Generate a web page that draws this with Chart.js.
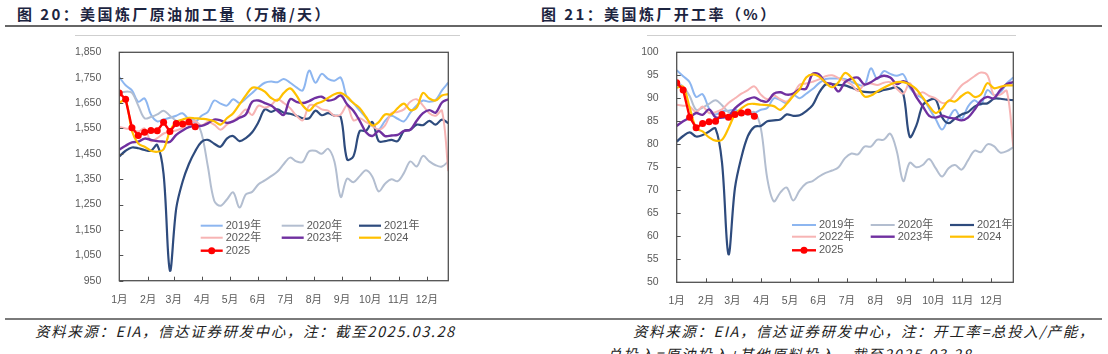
<!DOCTYPE html>
<html>
<head>
<meta charset="utf-8">
<script src="https://cdn.jsdelivr.net/npm/chart.js@4.4.1/dist/chart.umd.min.js"></script>
<style>
body { margin:0; width:1108px; height:354px; overflow:hidden; background:#fff; position:relative;
       font-family:"Liberation Sans","Noto Sans CJK SC",sans-serif; }
.title { position:absolute; top:3px; font-family:"Noto Sans CJK SC",sans-serif; font-size:15px; font-weight:bold;
         letter-spacing:2.4px; color:#1c2440; white-space:nowrap; }
.rule { position:absolute; left:5px; width:1097px; }
.frame-top { position:absolute; top:35px; height:1px; background:#cfcfcf; }
.note { position:absolute; font-family:"Noto Sans CJK SC",sans-serif; font-style:italic; font-size:14.5px;
        color:#222; white-space:nowrap; letter-spacing:1.6px; }
canvas { position:absolute; }
</style>
</head>
<body>
<div class="title" style="left:17px">图 20：美国炼厂原油加工量（万桶/天）</div>
<div class="title" style="left:541px">图 21：美国炼厂开工率（%）</div>
<div class="rule" style="top:25px;height:2px;background:#666"></div>
<div class="frame-top" style="left:75px;width:385px"></div>
<div class="frame-top" style="left:647px;width:369px"></div>

<canvas id="runs" width="420" height="275" style="left:40px;top:36px"></canvas>
<canvas id="util" width="430" height="275" style="left:600px;top:36px"></canvas>

<div class="rule" style="top:318px;height:1.5px;background:#7a7a7a"></div>
<div class="note" style="left:35px;top:320px">资料来源：EIA，信达证券研发中心，注：截至2025.03.28</div>
<div class="note" style="left:633px;top:320px">资料来源：EIA，信达证券研发中心，注：开工率=总投入/产能，</div>
<div class="note" style="left:607px;top:343px">总投入=原油投入+其他原料投入，截至2025.03.28</div>

<script>
// week index 0..52 on the x axis
var weeks = [0,1,2,3,4,5,6,7,8,9,10,11,12,13,14,15,16,17,18,19,20,21,22,23,24,25,26,
             27,28,29,30,31,32,33,34,35,36,37,38,39,40,41,42,43,44,45,46,47,48,49,50,51,52];
var monthTicks = [0,4.55,8.6,13.1,17.5,21.9,26.3,30.75,35.2,39.65,44.15,48.6];
var monthLabels = ['1月','2月','3月','4月','5月','6月','7月','8月','9月','10月','11月','12月'];
var seriesNames = ['2019年','2020年','2021年','2022年','2023年','2024','2025'];

// 原油加工量 (万桶/天)
var runs2019 = [1752,1720,1700,1655,1668,1605,1578,1585,1592,1600,1610,1585,1575,1600,1615,1660,1648,1640,1665,1650,1668,1690,1712,1730,1735,1732,1745,1730,1712,1700,1778,1730,1765,1745,1738,1750,1672,1650,1620,1592,1560,1545,1580,1600,1588,1578,1612,1640,1660,1655,1662,1700,1730];
var runs2020 = [1690,1695,1690,1640,1590,1595,1605,1620,1600,1580,1565,1585,1580,1530,1400,1265,1245,1270,1298,1238,1290,1300,1330,1345,1362,1380,1410,1435,1420,1418,1460,1462,1450,1470,1420,1280,1352,1338,1362,1385,1360,1302,1332,1350,1342,1375,1420,1400,1442,1420,1405,1400,1420];
var runs2021 = [1440,1462,1475,1472,1465,1462,1485,1370,990,1235,1340,1410,1460,1497,1505,1490,1478,1510,1520,1500,1512,1535,1575,1625,1615,1625,1612,1608,1600,1590,1590,1620,1602,1610,1600,1595,1428,1440,1540,1540,1575,1500,1500,1505,1500,1540,1545,1565,1563,1580,1565,1585,1570];
var runs2022 = [1556,1550,1547,1538,1550,1500,1512,1530,1538,1542,1552,1570,1578,1562,1575,1565,1545,1565,1580,1600,1625,1603,1640,1632,1642,1665,1650,1630,1600,1582,1640,1640,1625,1620,1600,1605,1640,1582,1590,1575,1560,1545,1562,1610,1615,1625,1655,1665,1640,1610,1600,1620,1382];
var runs2023 = [1466,1482,1495,1498,1510,1505,1500,1498,1497,1525,1542,1555,1560,1560,1570,1585,1582,1572,1578,1592,1605,1655,1660,1650,1640,1620,1603,1665,1655,1650,1658,1670,1675,1660,1665,1680,1645,1620,1580,1535,1520,1540,1520,1522,1525,1540,1545,1580,1610,1622,1612,1652,1665];
var runs2024 = [1652,1660,1540,1490,1478,1462,1458,1468,1540,1575,1585,1592,1590,1588,1585,1578,1565,1590,1610,1645,1680,1710,1708,1695,1670,1660,1690,1708,1680,1640,1620,1645,1655,1670,1685,1690,1675,1650,1630,1595,1562,1575,1605,1605,1630,1648,1622,1632,1690,1668,1660,1680,1685];
var runs2025 = [1690,1665,1553,1522,1535,1542,1541,1574,1538,1569,1567,1575,1557];
var runsTicks = [950,1050,1150,1250,1350,1450,1550,1650,1750,1850];

// 开工率 (%)
var util2019 = [96.1,94.8,93.5,90.3,90.9,87.8,86.5,87.2,87.3,87.5,86.8,86.5,86.8,87.5,87.9,90.0,89.6,89.0,90.7,90.0,91.0,92.0,93.3,94.2,94.3,94.3,94.2,93.6,93.0,92.8,96.5,94.2,95.9,95.3,94.9,95.2,92.3,90.8,90.0,87.8,85.5,83.2,85.6,87.5,85.6,88.2,89.6,88.6,91.8,90.7,91.3,93.3,94.5];
var util2020 = [93.5,92.5,90.5,87.5,88.0,88.8,89.6,88.5,87.0,86.8,87.0,86.6,87.0,83.5,72.5,67.6,69.5,70.6,67.8,70.0,71.5,72.0,73.0,73.8,74.3,75.0,77.0,78.0,77.8,79.5,79.5,81.0,81.0,82.3,78.5,72.0,76.0,75.0,75.5,76.8,74.8,73.0,74.8,75.5,74.5,76.5,78.6,78.3,80.0,79.6,78.2,78.5,79.4];
var util2021 = [80.6,81.8,82.6,81.7,82.0,82.8,83.4,76.0,56.1,70.5,77.2,81.8,83.8,84.0,85.0,85.2,85.4,86.5,86.2,86.3,87.2,88.5,91.2,93.0,93.1,92.9,92.8,92.3,91.8,91.4,91.3,91.4,91.8,92.1,92.4,91.0,81.6,84.0,88.5,89.6,89.7,85.9,84.6,85.6,86.5,87.0,88.2,88.8,88.9,89.9,89.9,89.7,89.6];
var util2022 = [88.6,88.4,88.2,87.0,88.2,86.8,87.0,87.6,89.0,90.0,91.0,91.8,92.6,90.8,89.8,90.6,89.8,89.3,90.8,93.0,93.2,93.6,94.1,94.8,95.0,94.4,93.8,93.0,91.6,93.0,93.2,92.9,93.4,93.5,92.1,91.0,93.3,90.8,91.3,90.5,90.0,89.0,89.3,91.0,92.8,93.8,94.8,95.6,95.0,90.7,90.8,91.6,79.5];
var util2023 = [84.0,85.0,85.8,86.8,86.4,87.6,85.9,85.8,86.1,87.8,89.0,89.8,90.2,89.5,89.3,91.0,91.3,90.8,91.0,92.0,92.1,95.3,95.2,93.4,93.1,91.5,93.5,94.3,94.5,93.0,93.5,94.4,94.9,94.5,93.1,93.7,92.8,90.3,88.3,86.2,85.8,86.2,85.8,85.6,85.2,85.8,87.5,89.5,90.3,90.0,91.8,93.1,93.5];
var util2024 = [92.3,92.5,88.0,83.5,82.8,81.5,80.8,81.0,83.5,86.5,87.8,88.7,88.8,88.6,88.5,88.3,87.5,88.8,90.5,92.0,94.5,95.2,94.7,93.4,92.4,93.5,95.5,94.5,92.6,90.4,90.6,91.5,92.3,93.0,93.5,93.5,93.0,92.0,90.2,88.3,86.8,87.8,89.5,89.3,90.5,91.3,90.3,90.8,93.3,92.2,92.5,92.8,92.8];
var util2025 = [93.4,91.8,85.9,83.6,84.5,84.9,85.0,86.5,85.9,86.5,86.8,87.0,86.1];
var utilTicks = [50,55,60,65,70,75,80,85,90,95,100];

var lineColors = ['#8DB6F0','#B3BED0','#2E4B7D','#F7B4B4','#7030A0','#FFC000','#FF0000'];
var lineWidths = [2, 2, 2.2, 2, 2.4, 2.2, 2.4];
var axisGrey = '#595959';

// plot frame, inward tick marks and the in-plot legend
var framePlugin = {
    id: 'frameLegend',
    afterDatasetsDraw: function(chart, args, opts) {
        var ctx = chart.ctx;
        var a = chart.chartArea;
        var xs = chart.scales.x, ys = chart.scales.y;
        ctx.save();
        ctx.strokeStyle = '#505050';
        ctx.lineWidth = 1.3;
        ctx.strokeRect(a.left, a.top, a.right - a.left, a.bottom - a.top);
        ctx.lineWidth = 1;
        ctx.beginPath();
        ys.ticks.forEach(function(t) {
            var y = Math.round(ys.getPixelForValue(t.value)) + 0.5;
            ctx.moveTo(a.left, y); ctx.lineTo(a.left + 4, y);
        });
        xs.ticks.forEach(function(t, i) {
            if (i == 0) return;
            var x = Math.round(xs.getPixelForValue(t.value)) + 0.5;
            ctx.moveTo(x, a.bottom); ctx.lineTo(x, a.bottom - 4);
        });
        ctx.stroke();

        ctx.font = '11px "Liberation Sans","Noto Sans CJK SC",sans-serif';
        ctx.textBaseline = 'middle';
        ctx.fillStyle = axisGrey;
        chart.data.datasets.forEach(function(ds, i) {
            var x0 = a.left + opts.cols[i % 3];
            var y = a.bottom + opts.rows[Math.floor(i / 3)];
            ctx.strokeStyle = ds.borderColor;
            ctx.lineWidth = ds.borderWidth;
            ctx.beginPath();
            ctx.moveTo(x0, y); ctx.lineTo(x0 + opts.len, y);
            ctx.stroke();
            if (ds.pointRadius > 0) {
                ctx.fillStyle = ds.borderColor;
                ctx.beginPath();
                ctx.arc(x0 + opts.len / 2, y, ds.pointRadius, 0, Math.PI * 2);
                ctx.fill();
                ctx.fillStyle = axisGrey;
            }
            ctx.fillText(ds.label, x0 + opts.len + 3, y);
        });
        ctx.restore();
    }
};

function makeChart(id, series, yTicks, fmt, pad, legendPos) {
    var datasets = series.map(function(d, i) {
        var last = i == series.length - 1;
        return {
            label: seriesNames[i],
            data: d,
            borderColor: lineColors[i],
            backgroundColor: lineColors[i],
            borderWidth: lineWidths[i],
            pointRadius: last ? 3.5 : 0,
            pointHoverRadius: 0,
            pointBorderWidth: 0,
            tension: last ? 0 : 0.35,
            fill: false,
            order: series.length - 1 - i
        };
    });

    return new Chart(document.getElementById(id), {
        type: 'line',
        data: { labels: weeks, datasets: datasets },
        options: {
            responsive: false,
            animation: false,
            devicePixelRatio: 1,
            layout: { padding: pad },
            scales: {
                x: {
                    type: 'linear', min: 0, max: 52,
                    afterBuildTicks: function(s) { s.ticks = monthTicks.map(function(v) { return { value: v }; }); },
                    afterFit: function(s) { s.height = 25; },
                    grid: { display: false }, border: { display: false },
                    ticks: { autoSkip: false, maxRotation: 0, padding: 5, color: axisGrey,
                             font: { size: 10.5, family: '"Liberation Sans","Noto Sans CJK SC",sans-serif' },
                             callback: function(v, i) { return monthLabels[i]; } }
                },
                y: {
                    min: yTicks[0], max: yTicks[yTicks.length - 1],
                    afterBuildTicks: function(s) { s.ticks = yTicks.map(function(v) { return { value: v }; }); },
                    afterFit: function(s) { s.width = 50; },
                    grid: { display: false }, border: { display: false },
                    ticks: { padding: 10, color: axisGrey,
                             font: { size: 10.5, family: '"Liberation Sans",sans-serif' },
                             callback: fmt }
                }
            },
            plugins: {
                legend: { display: false },
                tooltip: { enabled: false },
                frameLegend: legendPos
            }
        },
        plugins: [framePlugin]
    });
}

makeChart('runs',
    [runs2019, runs2020, runs2021, runs2022, runs2023, runs2024, runs2025],
    runsTicks,
    function(v) { return v.toLocaleString('en-US'); },
    { left: 29.3, right: 11.7, top: 10, bottom: 5.3 },
    { cols: [81.4, 162.4, 239.7], rows: [-55, -43, -30], len: 22 });

makeChart('util',
    [util2019, util2020, util2021, util2022, util2023, util2024, util2025],
    utilTicks,
    function(v) { return v; },
    { left: 26.7, right: 16.7, top: 8, bottom: 3.7 },
    { cols: [115.3, 194, 273.3], rows: [-57.3, -45.6, -32], len: 24 });
</script>
</body>
</html>
